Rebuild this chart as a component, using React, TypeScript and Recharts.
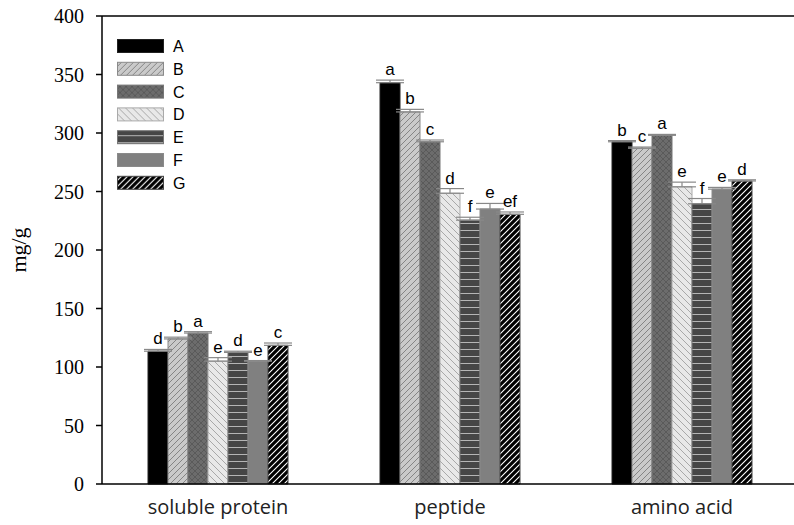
import { BarChart, Bar, XAxis, YAxis, ErrorBar, LabelList, ReferenceLine } from 'recharts';

const categories = ['soluble protein', 'peptide', 'amino acid'];
const seriesKeys = ['A', 'B', 'C', 'D', 'E', 'F', 'G'];

// means (mg/g)
const valA = [113.5, 343, 292.5];
const valB = [124, 318, 287];
const valC = [129, 292.5, 298];
const valD = [105, 248.5, 254];
const valE = [112.5, 225.5, 239.5];
const valF = [105, 235, 252];
const valG = [118.5, 230.5, 259];

// upper error (SE)
const errA = [1.5, 2.2, 1];
const errB = [1.5, 2.2, 1];
const errC = [1.2, 1.5, 0.8];
const errD = [3, 4, 4];
const errE = [1, 2.5, 4.5];
const errF = [0.5, 4.8, 1.5];
const errG = [2, 2, 1];

// significance letters
const sigA = ['d', 'a', 'b'];
const sigB = ['b', 'b', 'c'];
const sigC = ['a', 'c', 'a'];
const sigD = ['e', 'd', 'e'];
const sigE = ['d', 'f', 'f'];
const sigF = ['e', 'e', 'e'];
const sigG = ['c', 'ef', 'd'];

const yTicks = [0, 50, 100, 150, 200, 250, 300, 350, 400];

const values: Record<string, number[]> = { A: valA, B: valB, C: valC, D: valD, E: valE, F: valF, G: valG };
const errors: Record<string, number[]> = { A: errA, B: errB, C: errC, D: errD, E: errE, F: errF, G: errG };
const letters: Record<string, string[]> = { A: sigA, B: sigB, C: sigC, D: sigD, E: sigE, F: sigF, G: sigG };

const data = categories.map((name, i) => {
  const row: Record<string, any> = { name };
  seriesKeys.forEach((k) => {
    row[k] = values[k][i];
    row[k + '_err'] = [0, errors[k][i]];
    row[k + '_sig'] = letters[k][i];
  });
  return row;
});

const fills: Record<string, string> = {
  A: '#000000',
  B: 'url(#patB)',
  C: 'url(#patC)',
  D: 'url(#patD)',
  E: 'url(#patE)',
  F: '#808080',
  G: 'url(#patG)',
};

const strokes: Record<string, string> = {
  A: '#222', B: '#8a8a8a', C: '#777', D: '#aaa', E: '#777', F: '#8a8a8a', G: '#444',
};

const sans = '"Liberation Sans", Arial, sans-serif';
const serif = '"Liberation Serif", "Times New Roman", serif';

const makeLetter = (key: string) => (p: any) => {
  const { x, y, width, height, value, index } = p;
  const v = values[key][index];
  const pxPerUnit = Number(height) / v;
  const top = Number(y) - errors[key][index] * pxPerUnit - 5;
  return (
    <text x={Number(x) + Number(width) / 2} y={top} textAnchor="middle" fontSize={17} fontFamily={sans} fill="#000">
      {value}
    </text>
  );
};

const LegendBox = () => (
  <svg width={90} height={165} style={{ position: 'absolute', left: 117, top: 38 }}>
    {seriesKeys.map((k, i) => (
      <g key={k} transform={`translate(0, ${i * 22.8})`}>
        <rect x={0.5} y={1.5} width={46} height={13} fill={fills[k]} stroke={strokes[k]} strokeWidth={1} />
        <text x={56} y={14} fontSize={16} fontFamily={sans} fill="#000">{k}</text>
      </g>
    ))}
  </svg>
);

export default function App() {
  return (
    <div style={{ position: 'absolute', left: 0, top: 0, width: 794, height: 525, overflow: 'hidden', background: '#fff' }}>
      <BarChart
        width={798}
        height={525}
        data={data}
        margin={{ top: 16, right: 0, left: 0, bottom: 0 }}
        barGap={0}
        barSize={20}
      >
        <defs>
          <pattern id="patB" patternUnits="userSpaceOnUse" width={6} height={6}>
            <rect width={6} height={6} fill="#cacaca" />
            <path d="M0,6 L6,0 M-1,1 L1,-1 M5,7 L7,5" stroke="#858585" strokeWidth={1} />
          </pattern>
          <pattern id="patC" patternUnits="userSpaceOnUse" width={6} height={6}>
            <rect width={6} height={6} fill="#6c6c6c" />
            <path d="M0,6 L6,0 M-1,1 L1,-1 M5,7 L7,5 M0,0 L6,6 M-1,5 L1,7 M5,-1 L7,1" stroke="#5a5a5a" strokeWidth={1} />
          </pattern>
          <pattern id="patD" patternUnits="userSpaceOnUse" width={7} height={7}>
            <rect width={7} height={7} fill="#e8e8e8" />
            <path d="M0,0 L7,7 M-1,6 L1,8 M6,-1 L8,1" stroke="#a8a8a8" strokeWidth={1} />
          </pattern>
          <pattern id="patE" patternUnits="userSpaceOnUse" width={7} height={7}>
            <rect width={7} height={7} fill="#464646" />
            <rect y={6} width={7} height={1.2} fill="#b5b5b5" />
          </pattern>
          <pattern id="patG" patternUnits="userSpaceOnUse" width={6} height={6}>
            <rect width={6} height={6} fill="#000" />
            <path d="M0,6 L6,0 M-1,1 L1,-1 M5,7 L7,5" stroke="#fff" strokeWidth={1.1} />
          </pattern>
        </defs>
        <XAxis
          dataKey="name"
          height={41}
          tickLine={false}
          axisLine={{ stroke: '#000', strokeWidth: 1.5 }}
          tickMargin={10}
          tick={{ fill: '#222', fontSize: 20, fontFamily: '"Open Sans", Lato, sans-serif' }}
        />
        <YAxis
          width={102}
          domain={[0, 400]}
          ticks={yTicks}
          interval={0}
          tickSize={6}
          tickMargin={12}
          axisLine={{ stroke: '#000', strokeWidth: 1.5 }}
          tickLine={{ stroke: '#000', strokeWidth: 1.5 }}
          tick={{ fill: '#000', fontSize: 20, fontFamily: serif }}
          label={{
            content: (p: any) => {
              const vb = p.viewBox || { x: 0, y: 16, height: 468 };
              const cx = vb.x + 26;
              const cy = vb.y + vb.height / 2;
              return (
                <text transform={`translate(${cx}, ${cy}) rotate(-90)`} textAnchor="middle" fontSize={22} fontFamily={serif} fill="#000">
                  mg/g
                </text>
              );
            },
          }}
        />
        <ReferenceLine y={400} stroke="#000" strokeWidth={1.5} />
        {seriesKeys.map((k) => (
          <Bar key={k} dataKey={k} fill={fills[k]} stroke={strokes[k]} strokeWidth={1} isAnimationActive={false}>
            <ErrorBar dataKey={k + '_err'} direction="y" width={14} stroke="#888" strokeWidth={1.2} isAnimationActive={false} />
            <LabelList dataKey={k + '_sig'} content={makeLetter(k)} />
          </Bar>
        ))}
      </BarChart>
      <LegendBox />
    </div>
  );
}
